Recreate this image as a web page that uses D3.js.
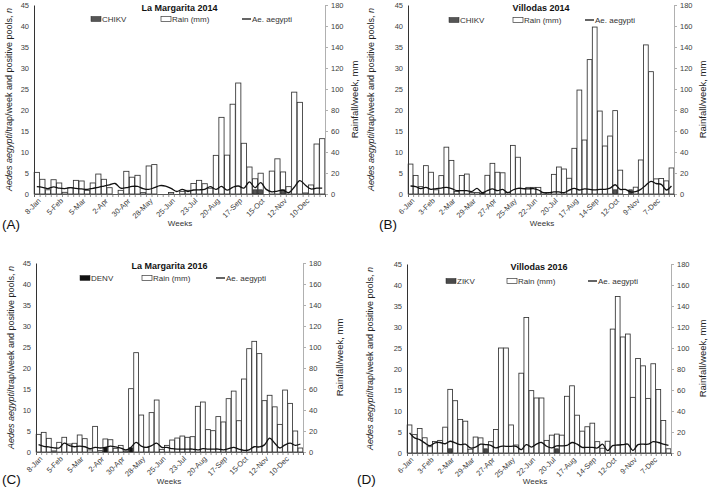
<!DOCTYPE html>
<html><head><meta charset="utf-8">
<script src="https://cdn.jsdelivr.net/npm/d3@7"></script>
<style>
body{margin:0;background:#fff}
svg{display:block}
text{font-family:"Liberation Sans",Arial,sans-serif}
</style>
</head><body>
<svg id="chart" width="709" height="489"></svg>
<script>
// ---------- DATA ----------
const weeks = d3.range(52); // 52 weekly categories
const labelsMargarita = ["8-Jan","5-Feb","5-Mar","2-Apr","30-Apr","28-May","25-Jun","23-Jul","20-Aug","17-Sep","15-Oct","12-Nov","10-Dec"];
const labelsVillodas = ["6-Jan","3-Feb","2-Mar","29-Mar","27-Apr","25-May","22-Jun","20-Jul","17-Aug","14-Sep","12-Oct","9-Nov","7-Dec"];

// (A) La Margarita 2014
const rainA = [20.6,14,4,13.6,10.5,1.6,6,13,12.4,3.5, 10.5,19,14,6,0,3.5,21.6,16,17.8,1.3, 26.7,28,0,0,1.5,0,2.5,3.5,10,13, 9.8,5.5,36.8,73,37,85.5,105.7,48.3,25.7,14.5, 19.8,0,21.8,33.5,21,7,97,87.3,1,8.6, 47.6,52.7];
const aegyptiA = [1.75,1.6,1.3,1.7,1.4,1.3,1.5,1.35,1.2,1.1, 1.35,1.6,1.9,2.2,2.5,1.4,1.5,1.8,1.8,1.3, 1.1,1.5,2.0,1.9,1.35,0.6,1.1,0.6,0.95,1.0, 1.1,1.75,1.1,1.8,0.9,1.6,1.9,1.4,2.9,1.5, 2.7,1.1,0.5,0.7,0.9,0.3,1.6,3.2,2.1,1.2, 1.4,1.4];
const chikvA = [0,0,0,0,0,0,0,0,0,0, 0,0,0,0,0,0,0,0,0,0, 0,0,0,0,0,0,0,0,0,0, 0,0,0,0,0,0,0,0,0,1, 1,0,0,0,1,0,0,0,0,0, 0,0];

// (B) Villodas 2014
const rainB = [28.5,17.7,7,27,20.7,4,17.5,44.6,32,2.5, 17.7,19,1.5,1.5,0.5,17.8,29.2,20.7,20.2,1.5, 46.3,35,5,6.3,6.3,6.3,1.5,1.5,18.7,25.7, 23.8,15,43.5,99,51.4,128,159,79,45.7,55.2, 79.4,22.7,0,0,6.5,32.4,142,116.5,14.4,14.8, 12.5,24.8];
const aegyptiB = [1.9,1.75,1.3,1.6,1.1,1.3,1.4,1.6,1.3,0.8, 0.8,0.8,0.6,1.35,0.3,0.8,1.2,0.8,1.1,0.3, 0.95,1.35,1.3,1.2,1.3,0.95,0.3,0.3,0.5,0.5, 0.3,0.9,1.35,0.95,1.2,1.1,1.0,1.1,1.1,1.4, 2.2,1.1,1.1,0.5,0.55,1.1,2.1,3.0,2.5,2.3, 0.95,1.9];
const chikvB = [0,0,0,0,0,0,0,0,0,0, 0,0,0,0,0,0,0,0,0,0, 0,0,0,0,0,0,0,0,0,0, 0,0,0,0,0,0,0,0,0,0, 1,0,0,1,0,0,0,0,0,0, 0,0];

// (C) La Margarita 2016
const rainC = [16.8,18.7,13,1,9.2,14,7.6,8.3,16.2,12.7, 2,24.4,1.3,12.4,11.7,3.5,6.3,1,60.3,94.6, 35.2,4.4,37.5,49.5,2.5,6.3,11.4,13.3,15.2,14, 14.6,43.5,47.6,21.3,20.3,33.7,28.6,50.8,58,29.8, 69.5,98.4,105.4,93.7,48.9,54,43,26.3,59,46.3, 20,3.8];
const aegyptiC = [1.75,1.35,1.2,1.0,0.95,2.1,1.5,1.25,1.4,1.25, 0.8,1.1,0.95,1.1,1.4,1.2,0.95,0.5,1.1,2.3, 1.4,1.1,1.5,2.1,1.1,1.1,0.8,0.7,0.7,0.7, 0.7,0.5,0.8,0.7,0.7,0.7,0.5,0.8,1.1,0.7, 0.4,0.5,1.25,1.2,1.7,3.3,2.1,0.95,1.7,2.1, 1.6,1.9];
const denvC = [0,0,0,0,0,0,0,0,0,0, 0,0,0,1,0,0,0,0,1,0, 0,0,0,0,0,0,0,0,0,0, 0,0,0,0,0,0,0,0,0,0, 0,0,0,0,0,0,0,0,0,0, 0,0];

// (D) Villodas 2016
const rainD = [26.7,17.5,23.3,14.5,6,11,12,24.6,60.6,49.8, 32,30.3,3.6,15.2,14.4,8,10.8,22.4,100,100, 26.7,7.6,76,129,59.4,52.4,52.4,12,17,18, 17,54,64,36,20.8,25,28.4,10.8,4.5,11.2, 118,149,110.5,113.3,53,90,83,52,85,60.5, 31,4];
const aegyptiD = [4.8,3.6,3.2,2.4,1.75,2.4,2.5,2.2,2.8,2.4, 2.0,2.1,1.2,1.4,2.1,2.0,1.8,1.2,1.6,1.6, 1.6,1.6,0.8,2.0,1.4,2.1,2.5,1.6,1.2,1.7, 1.7,1.8,2.5,2.1,1.35,1.35,1.35,1.2,2.1,0.55, 1.75,1.9,2.0,2.1,0.6,2.0,2.1,2.1,2.7,2.5, 2.1,1.8];
const zikvD = [0,0,0,0,0,0,0,0,1,0, 0,0,0,0,0,1,0,0,0,0, 0,0,0,0,0,0,0,0,0,1, 0,0,0,0,0,0,0,0,0,0, 0,0,0,0,0,0,0,0,0,0, 0,0];

const leftTicks = [0,5,10,15,20,25,30,35,40,45];
const rightTicks = [0,20,40,60,80,100,120,140,160,180];

// ---------- LAYOUT / OPTIONS ----------
const panels = [
  {tag:"(A)", title:"La Margarita 2014", virus:"CHIKV", poolFill:"#555", rain:rainA, aeg:aegyptiA, pools:chikvA, labels:labelsMargarita,
   x0:34, x1:325, yb:194, yt:5, ytitleX:9, rtitleX:354, weeksX:180, weeksY:230, tagX:2, tagY:231,
   leg:{y:19, s1:91, s2:161, s3:242}},
  {tag:"(B)", title:"Villodas 2014", virus:"CHIKV", poolFill:"#555", rain:rainB, aeg:aegyptiB, pools:chikvB, labels:labelsVillodas,
   x0:408, x1:674, yb:194, yt:5, ytitleX:371, rtitleX:702, weeksX:542, weeksY:230, tagX:379, tagY:231,
   leg:{y:20, s1:449, s2:513, s3:585}},
  {tag:"(C)", title:"La Margarita 2016", virus:"DENV", poolFill:"#111", rain:rainC, aeg:aegyptiC, pools:denvC, labels:labelsMargarita,
   x0:36, x1:303, yb:452, yt:263, ytitleX:11, rtitleX:339, weeksX:169, weeksY:488, tagX:2, tagY:486,
   leg:{y:278, s1:80, s2:142, s3:216}},
  {tag:"(D)", title:"Villodas 2016", virus:"ZIKV", poolFill:"#4a4a4a", rain:rainD, aeg:aegyptiD, pools:zikvD, labels:labelsVillodas,
   x0:407, x1:671, yb:453, yt:264, ytitleX:370, rtitleX:702, weeksX:535, weeksY:488, tagX:357, tagY:486,
   leg:{y:281, s1:446, s2:507, s3:588}}
];

const svg = d3.select("#chart");
const tickColor = "#404040";

panels.forEach(p => {
  const g = svg.append("g");
  const x = d3.scaleBand().domain(weeks).range([p.x0, p.x1]).paddingInner(0.07).paddingOuter(0.035);
  const xEdge = d3.scaleLinear().domain([0, 52]).range([p.x0, p.x1]);
  const yL = d3.scaleLinear().domain([0, 45]).range([p.yb, p.yt]);
  const yR = d3.scaleLinear().domain([0, 180]).range([p.yb, p.yt]);
  const bw = x.bandwidth();

  // rain bars (secondary axis)
  g.append("g").selectAll("rect").data(weeks.filter(i => p.rain[i] > 0)).join("rect")
    .attr("x", i => x(i)).attr("width", bw)
    .attr("y", i => yR(p.rain[i])).attr("height", i => p.yb - yR(p.rain[i]))
    .attr("fill", "#fff").attr("stroke", "#333").attr("stroke-width", 0.85);

  // virus-positive pools (primary axis)
  g.append("g").selectAll("rect").data(weeks.filter(i => p.pools[i] > 0)).join("rect")
    .attr("x", i => x(i) + bw * 0.12).attr("width", bw * 0.76)
    .attr("y", i => yL(p.pools[i])).attr("height", i => p.yb - yL(p.pools[i]))
    .attr("fill", p.poolFill).attr("stroke", "#222").attr("stroke-width", 0.6);

  // Ae. aegypti line
  const line = d3.line().x(i => x(i) + bw / 2).y(i => yL(p.aeg[i])).curve(d3.curveCatmullRom);
  g.append("path").datum(weeks).attr("d", line)
    .attr("fill", "none").attr("stroke", "#111").attr("stroke-width", 1.3);

  // left axis
  const la = g.append("g").attr("transform", `translate(${p.x0},0)`)
    .call(d3.axisLeft(yL).tickValues(leftTicks).tickSize(0).tickPadding(5));
  la.select(".domain").attr("stroke", "#333").attr("stroke-width", 1);
  la.selectAll("text").attr("font-size", 7.5).attr("fill", tickColor).attr("font-family", "Liberation Sans, Arial, sans-serif");

  // right axis
  const ra = g.append("g").attr("transform", `translate(${p.x1},0)`)
    .call(d3.axisRight(yR).tickValues(rightTicks).tickSize(3).tickPadding(3));
  ra.select(".domain").attr("stroke", "#b0b0b0").attr("stroke-width", 1);
  ra.selectAll("line").attr("stroke", "#b0b0b0");
  ra.selectAll("text").attr("font-size", 7.5).attr("fill", tickColor).attr("font-family", "Liberation Sans, Arial, sans-serif");

  // bottom axis: boundary ticks
  const ba = g.append("g").attr("transform", `translate(0,${p.yb})`)
    .call(d3.axisBottom(xEdge).tickValues(d3.range(53)).tickSize(3).tickFormat(""));
  ba.select(".domain").attr("stroke", "#555").attr("stroke-width", 1);
  ba.selectAll("line").attr("stroke", "#666").attr("stroke-width", 0.7);

  // bottom labels every 4th week
  const labelWeeks = weeks.filter(i => i % 4 === 0);
  g.append("g").selectAll("text").data(labelWeeks).join("text")
    .attr("transform", i => `translate(${x(i) + bw / 2 + 3},${p.yb + 6}) rotate(-45)`)
    .attr("text-anchor", "end").attr("dominant-baseline", "middle")
    .attr("font-size", 7.5).attr("fill", tickColor)
    .text(i => p.labels[i / 4]);

  // titles
  const cx = (p.x0 + p.x1) / 2;
  g.append("text").attr("x", cx).attr("y", p.yt + 6).attr("text-anchor", "middle")
    .attr("font-size", 9).attr("font-weight", "bold").attr("fill", "#111").text(p.title);

  const ymid = (p.yb + p.yt) / 2;
  const lt = g.append("text").attr("transform", `translate(${p.ytitleX},${ymid}) rotate(-90)`)
    .attr("text-anchor", "middle").attr("dominant-baseline", "central")
    .attr("font-size", 9).attr("fill", "#222");
  lt.append("tspan").attr("font-style", "italic").text("Aedes aegypti");
  lt.append("tspan").text("/trap/week and positive pools, ");
  lt.append("tspan").attr("font-style", "italic").text("n");

  g.append("text").attr("transform", `translate(${p.rtitleX},${ymid}) rotate(-90)`)
    .attr("text-anchor", "middle").attr("dominant-baseline", "central")
    .attr("font-size", 9.5).attr("fill", "#222").text("Rainfall/week, mm");

  g.append("text").attr("x", p.weeksX).attr("y", p.weeksY - 4).attr("text-anchor", "middle")
    .attr("font-size", 8).attr("fill", "#333").text("Weeks");

  g.append("text").attr("x", p.tagX).attr("y", p.tagY - 2)
    .attr("font-size", 13.5).attr("fill", "#111").text(p.tag);

  // legend
  const L = p.leg;
  const lg = g.append("g");
  lg.append("rect").attr("x", L.s1).attr("y", L.y - 2.5).attr("width", 10).attr("height", 5)
    .attr("fill", p.poolFill).attr("stroke", "#222").attr("stroke-width", 0.5);
  lg.append("text").attr("x", L.s1 + 11).attr("y", L.y).attr("dominant-baseline", "central")
    .attr("font-size", 8).attr("fill", "#333").text(p.virus);
  lg.append("rect").attr("x", L.s2).attr("y", L.y - 2.5).attr("width", 10).attr("height", 5)
    .attr("fill", "#fff").attr("stroke", "#3a3a3a").attr("stroke-width", 0.7);
  lg.append("text").attr("x", L.s2 + 11).attr("y", L.y).attr("dominant-baseline", "central")
    .attr("font-size", 8).attr("fill", "#333").text("Rain (mm)");
  lg.append("line").attr("x1", L.s3).attr("x2", L.s3 + 9).attr("y1", L.y).attr("y2", L.y)
    .attr("stroke", "#111").attr("stroke-width", 1.3);
  lg.append("text").attr("x", L.s3 + 10).attr("y", L.y).attr("dominant-baseline", "central")
    .attr("font-size", 8).attr("fill", "#333").text("Ae. aegypti");
});
</script>
</body></html>
